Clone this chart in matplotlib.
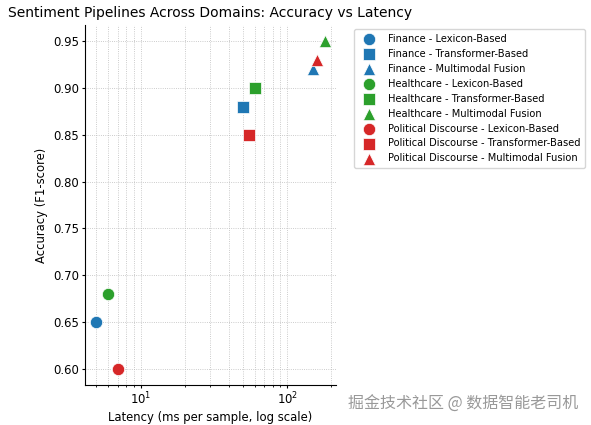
import matplotlib
matplotlib.use("Agg")
import matplotlib.pyplot as plt

domains = ["Finance", "Healthcare", "Political Discourse"]
methods = ["Lexicon-Based", "Transformer-Based", "Multimodal Fusion"]
colors = ["#1f77b4", "#2ca02c", "#d62728"]
markers = ["o", "s", "^"]
latency = {
    "Finance": [5, 50, 150],
    "Healthcare": [6, 60, 180],
    "Political Discourse": [7, 55, 160],
}
accuracy = {
    "Finance": [0.65, 0.88, 0.92],
    "Healthcare": [0.68, 0.90, 0.95],
    "Political Discourse": [0.60, 0.85, 0.93],
}

fig = plt.figure(figsize=(5.91, 4.25), dpi=100)
ax = fig.add_axes([85/591, 1-385/425, (336-85)/591, (385-25)/425])

for d, c in zip(domains, colors):
    for i, (m, mk) in enumerate(zip(methods, markers)):
        ax.scatter(latency[d][i], accuracy[d][i], color=c, marker=mk, s=78,
                   edgecolors="white", linewidths=0.5,
                   label=f"{d} - {m}", zorder=3)

ax.set_xscale("log")
ax.set_xlabel("Latency (ms per sample, log scale)", fontsize=8.4, labelpad=3)
ax.set_ylabel("Accuracy (F1-score)", fontsize=8.4, labelpad=4)
ax.set_title("Sentiment Pipelines Across Domains: Accuracy vs Latency", fontsize=10, pad=6)
ax.grid(True, which="both", linestyle=":", linewidth=0.6, color="#bbbbbb")
ax.tick_params(which="both", labelsize=8.4, length=2, pad=2)
ax.tick_params(which="minor", length=1.2)
for s in ["top", "right"]:
    ax.spines[s].set_visible(False)

ax.legend(loc="upper left", bbox_to_anchor=(354/591, 1-29/425),
          bbox_transform=fig.transFigure, borderaxespad=0, fontsize=7.1,
          handletextpad=0.9, labelspacing=0.5, borderpad=0.5)

fig.text(578/591, 1-404/425, "掘金技术社区 @ 数据智能老司机", ha="right", va="center",
         fontsize=11.5, color="#999999", family=["Noto Sans CJK SC", "DejaVu Sans"])

fig.savefig("out.png", dpi=100)
